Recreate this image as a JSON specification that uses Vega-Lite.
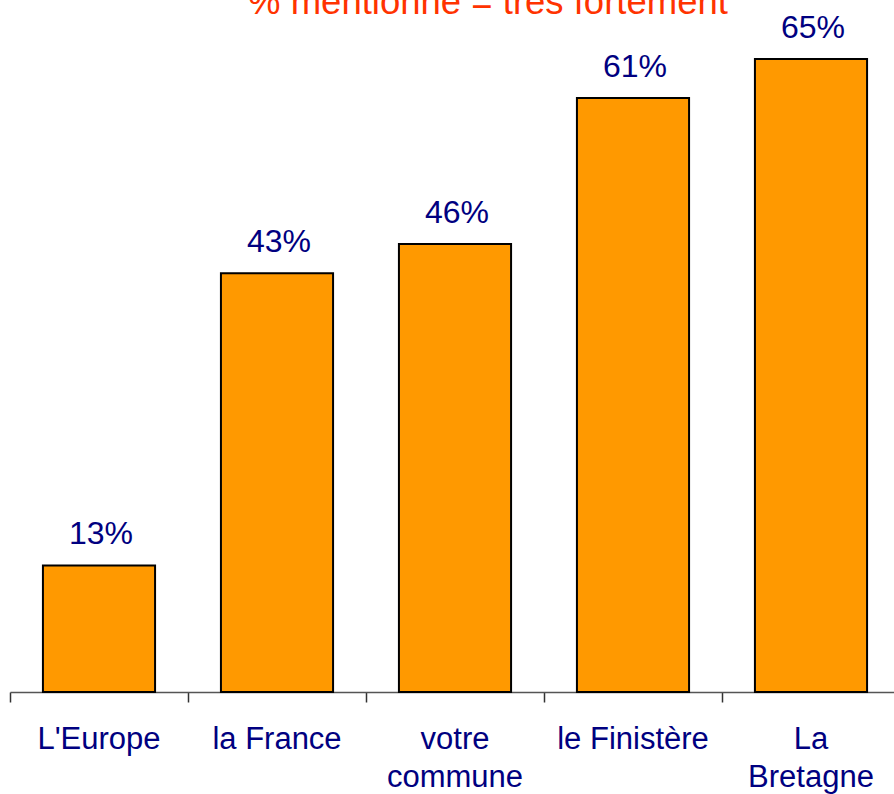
{
  "$schema": "https://vega.github.io/schema/vega-lite/v6.json",
  "autosize": "none",
  "width": 890,
  "height": 692,
  "padding": {"left": 10, "top": 0, "right": 0, "bottom": 102},
  "background": "white",
  "title": {
    "text": "% mentionné = très fortement",
    "font": "Liberation Sans",
    "fontSize": 36.5,
    "fontWeight": "normal",
    "color": "#FF3300",
    "anchor": "middle",
    "frame": "group",
    "dx": 33,
    "offset": -21
  },
  "data": {
    "values": [
      {"lieu": "L'Europe", "pct": 13, "etiquette": "13%"},
      {"lieu": "la France", "pct": 43, "etiquette": "43%"},
      {"lieu": "votre commune", "pct": 46, "etiquette": "46%"},
      {"lieu": "le Finistère", "pct": 61, "etiquette": "61%"},
      {"lieu": "La Bretagne", "pct": 65, "etiquette": "65%"}
    ]
  },
  "encoding": {
    "x": {
      "field": "lieu",
      "type": "nominal",
      "sort": null,
      "scale": {"paddingInner": 0, "paddingOuter": 0},
      "axis": {
        "title": null,
        "labelAngle": 0,
        "bandPosition": 0,
        "labelFont": "Liberation Sans",
        "labelFontSize": 31,
        "labelColor": "#000080",
        "labelPadding": 22,
        "labelLineHeight": 38,
        "labelBaseline": "top",
        "tickSize": 10,
        "tickWidth": 1.5,
        "tickColor": "#333333",
        "domainColor": "#555555",
        "domainWidth": 1.5,
        "labelExpr": "datum.value == 'votre commune' ? ['votre', 'commune'] : datum.value == 'La Bretagne' ? ['La', 'Bretagne'] : datum.value",
        "labelFlush": false,
        "labelOverlap": false,
        "labelBound": false
      }
    },
    "y": {
      "field": "pct",
      "type": "quantitative",
      "scale": {"domain": [0, 71.06], "nice": false},
      "axis": null
    }
  },
  "layer": [
    {
      "mark": {"type": "bar", "width": {"band": 0.63}, "fill": "#FF9900", "stroke": "#000000", "strokeWidth": 2}
    },
    {
      "mark": {"type": "text", "baseline": "alphabetic", "dy": -21, "dx": 2, "font": "Liberation Sans", "fontSize": 32, "color": "#000080"},
      "encoding": {"text": {"field": "etiquette", "type": "nominal"}}
    }
  ],
  "config": {"view": {"stroke": null}}
}
